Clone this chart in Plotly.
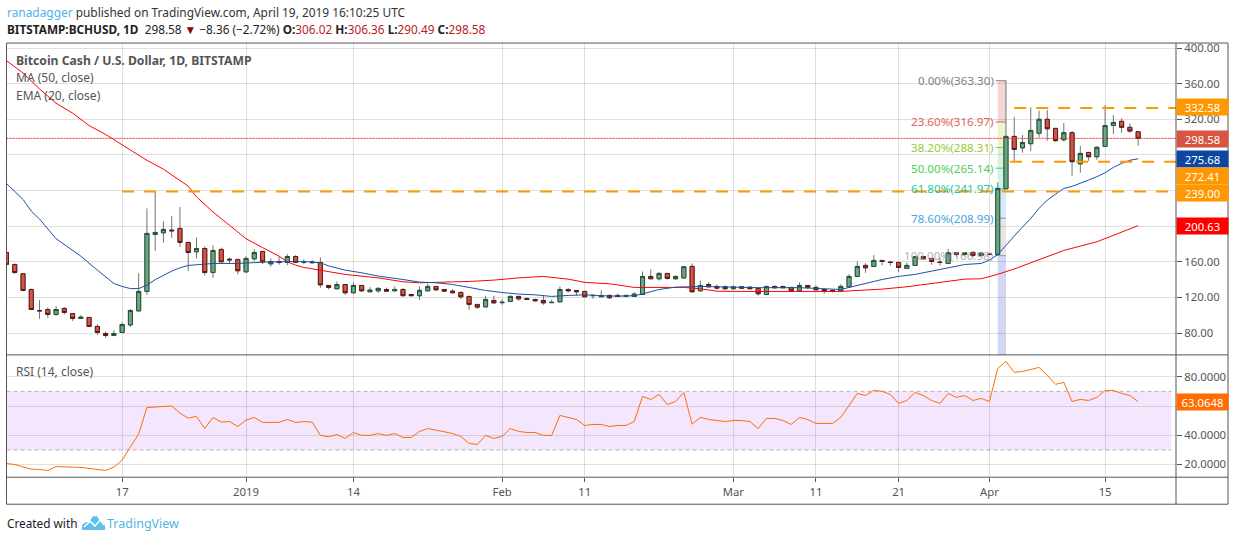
import pandas as pd
import plotly.graph_objects as go

# 日线数据 2018-12-03 .. 2019-04-19
dates = pd.date_range('2018-12-03', '2019-04-19', freq='D').strftime('%Y-%m-%d').tolist()

opens = [170.5, 157, 146.6, 129, 105.4, 106.5, 100.9, 107.7, 102, 96.4, 97.6, 87.5, 79.6, 77.3, 80.7, 89.3, 105, 126.8, 190.8, 192.6,
         195.6, 197.5, 181.8, 171.3, 175, 148, 173.9, 163, 162.7, 148.8, 163.4, 171.7, 157.8, 160.4, 159.3, 166, 159.7, 159, 159.3, 133.5,
         129.8, 134.6, 125.3, 133.5, 126.4, 127.5, 129, 127.5, 129, 123.4, 122, 127.5, 132.4, 129, 127.1, 125.6, 121.2, 112.2, 109.5, 116.7,
         114.2, 115.5, 121.2, 118.9, 117.8, 116.7, 114.2, 115.2, 129, 127.9, 126.8, 122, 120.8, 122.3, 122.3, 121.2, 121.2, 123.4, 143.6, 141,
         147, 141, 142, 154.9, 127.5, 134.6, 132.4, 132, 129.8, 132, 131.6, 130.2, 123.4, 132.4, 132.4, 131.3, 127.5, 133.5, 131.3, 129,
         127.9, 127.5, 132, 143.6, 156, 154.9, 161.6, 159.7, 159.3, 152.6, 156, 166, 163.8, 159.7, 158.2, 170.2, 168.3, 170.6, 167.2, 168.7,
         168.3, 242, 300.8, 288, 292.6, 304.2, 320, 309.8, 297, 305, 270, 282.8, 278, 289.6, 313, 317.7, 311, 306.02]
closes = [157.1, 148, 127.9, 106.5, 105, 100.9, 106.5, 103.2, 96.4, 97.9, 87.5, 80.7, 77.3, 79.6, 89.7, 105.4, 126.8, 191.9, 193, 196.4,
          194.9, 181.8, 170.5, 175, 148, 172.8, 160, 162.3, 150, 163.8, 170.5, 160, 160.4, 159.3, 166, 159.3, 160, 159.7, 134.2, 131.2,
          134.6, 125.3, 133.5, 127.5, 128.3, 130.2, 127.1, 129, 122, 122, 128, 132.4, 128.6, 127.1, 125.3, 120.8, 112.2, 109.2, 117.8, 114,
          114.6, 121.2, 118.5, 117.8, 116.3, 114, 114.5, 129, 127.5, 126.4, 120.8, 122.3, 122, 119.7, 121.2, 122.3, 123.8, 143.6, 141, 147,
          141.4, 143.6, 154.5, 126.4, 133.5, 132, 130.5, 129.8, 132, 130.5, 129.8, 124.2, 132.4, 130.9, 130.9, 127.5, 133.5, 131.3, 128.6, 127.1,
          126.8, 132.4, 143.6, 154.9, 153.3, 161.6, 160.4, 159.3, 153.7, 156, 165.7, 163.4, 160.4, 159.3, 170.2, 168.3, 170.2, 167.2, 169.8, 168.3,
          242.4, 300.8, 286.2, 294, 307.5, 320, 309.4, 296, 305, 272.4, 281.7, 278, 288.5, 313, 316.5, 311, 306.8, 298.58]
highs = [170.5, 158.2, 146.6, 130, 117, 109, 110.3, 109.2, 102.5, 100.2, 98, 90, 81.8, 83.3, 92, 106.9, 147.3, 220, 239, 205.7,
         211.3, 221.5, 182, 187.4, 177.3, 178.8, 176, 164.6, 163, 166.4, 174, 172, 163.8, 165.7, 168.7, 167.5, 162.7, 162, 165, 133.6,
         138, 134.8, 137, 134, 131.6, 131.6, 131, 132.4, 130.5, 123.5, 132.4, 135.8, 132.6, 129.2, 129.4, 127.1, 121.4, 112.4, 122, 122,
         118, 122.6, 121.5, 120, 118.5, 122, 117.8, 132.4, 130.5, 128, 127, 123.8, 128, 123.4, 124.5, 122.5, 126, 149.2, 151.5, 148.5,
         147.2, 144.8, 155, 158.2, 139, 137, 134.6, 133.5, 133.5, 132.2, 132, 130.5, 133, 133.5, 133, 131.5, 137, 133.7, 133.5, 129.2,
         129, 135, 146.2, 160.4, 158.6, 167.6, 162, 160.5, 159.5, 159.3, 166.5, 166.3, 164, 165, 174.3, 170.5, 171, 171.7, 170.5, 169.5,
         249, 363.3, 322.5, 302.3, 333.4, 329.6, 330.4, 310, 315.8, 306.8, 290, 283, 290, 336, 324.8, 321, 315.4, 306.36]
lows = [157.1, 146.6, 127.9, 106.5, 96, 97.2, 99.4, 100.9, 93.8, 96, 87.5, 78, 74.7, 77, 80.5, 87, 104, 123, 172.4, 181.4,
        187, 176.9, 150, 163.8, 145, 142, 160, 157.4, 146, 148, 160.8, 157.4, 154.5, 156.7, 156.3, 159, 157.4, 158, 130.9, 129,
        129, 123, 124.2, 126.4, 126.4, 125.3, 126.4, 127, 121.5, 121.7, 117, 127, 127.5, 126.4, 125, 118.5, 106.2, 107.3, 109, 113,
        111.8, 114.8, 116.3, 117, 115.5, 111.8, 113.7, 114, 125.6, 122, 120.8, 118.5, 120.6, 118.5, 121, 121, 121, 123, 141, 139,
        140, 139.9, 141, 126, 127, 131, 129, 128.6, 129, 129.8, 129.6, 122, 123, 129.8, 130.6, 126.4, 127, 129.4, 128.3, 124.2,
        125.6, 127, 131.6, 143, 147.7, 154.5, 156, 155.6, 148.5, 152, 155.8, 163, 156.7, 156, 158, 165.7, 167, 165, 166, 167.5,
        167, 242, 273, 282.5, 284.3, 299.7, 296, 295, 295, 256.6, 260, 273.5, 274.6, 289, 303.4, 305, 305, 290.49]

ema_dates = ['2018-12-03', '2018-12-05', '2018-12-06', '2018-12-07', '2018-12-09', '2018-12-12', '2018-12-14', '2018-12-16', '2018-12-17',
             '2018-12-18', '2018-12-19', '2018-12-20', '2018-12-21', '2018-12-22', '2018-12-23', '2018-12-24', '2018-12-25', '2018-12-26',
             '2018-12-28', '2018-12-31', '2019-01-02', '2019-01-04', '2019-01-08', '2019-01-10', '2019-01-11', '2019-01-12', '2019-01-13',
             '2019-01-15', '2019-01-17', '2019-01-20', '2019-01-22', '2019-01-24', '2019-01-26', '2019-01-28', '2019-01-30', '2019-02-01',
             '2019-02-03', '2019-02-05', '2019-02-07', '2019-02-09', '2019-02-11', '2019-02-13', '2019-02-15', '2019-02-17', '2019-02-18',
             '2019-02-20', '2019-02-22', '2019-02-25', '2019-02-28', '2019-03-04', '2019-03-09', '2019-03-12', '2019-03-14', '2019-03-15',
             '2019-03-17', '2019-03-19', '2019-03-21', '2019-03-23', '2019-03-25', '2019-03-27', '2019-03-29', '2019-03-31', '2019-04-01',
             '2019-04-02', '2019-04-03', '2019-04-04', '2019-04-05', '2019-04-06', '2019-04-07', '2019-04-08', '2019-04-09', '2019-04-10',
             '2019-04-11', '2019-04-12', '2019-04-13', '2019-04-14', '2019-04-15', '2019-04-16', '2019-04-17', '2019-04-18', '2019-04-19']
ema_values = [248, 230, 217, 208, 186, 166.4, 150.7, 135.7, 132.4,
              130, 130, 133.9, 140, 144.7, 149.6, 153.3, 156, 156.7,
              158.2, 158.2, 159.3, 160, 160.4, 159, 155.4, 153.3, 150.7,
              147.7, 144, 140.2, 137.3, 136.5, 134.6, 131.3, 127.9, 125.6,
              123.8, 123, 121.2, 122.3, 123, 122, 121.5, 122, 124,
              129, 131.6, 132.4, 131.6, 131, 131, 130.2, 129, 131.3,
              135.8, 140.2, 143.6, 145.9, 149.6, 153.3, 157, 158.2, 162,
              168, 178.8, 189, 199, 208.7, 220, 229.3, 236, 242.4,
              244.7, 248, 251.8, 255.5, 260, 266, 270.5, 274, 275.68]

ma_dates = ['2018-12-03', '2018-12-05', '2018-12-07', '2018-12-09', '2018-12-11', '2018-12-13', '2018-12-15', '2018-12-17', '2018-12-18',
            '2018-12-20', '2018-12-22', '2018-12-25', '2018-12-26', '2018-12-28', '2018-12-30', '2019-01-01', '2019-01-03', '2019-01-05',
            '2019-01-06', '2019-01-07', '2019-01-08', '2019-01-10', '2019-01-13', '2019-01-17', '2019-01-20', '2019-01-22', '2019-01-24',
            '2019-01-26', '2019-01-28', '2019-01-31', '2019-02-03', '2019-02-06', '2019-02-09', '2019-02-11', '2019-02-14', '2019-02-17',
            '2019-02-21', '2019-02-23', '2019-02-25', '2019-02-27', '2019-03-01', '2019-03-14', '2019-03-16', '2019-03-19', '2019-03-22',
            '2019-03-25', '2019-03-29', '2019-03-31', '2019-04-02', '2019-04-04', '2019-04-07', '2019-04-10', '2019-04-14', '2019-04-19']
ma_values = [385.8, 372, 354, 338, 327, 313, 303, 291, 285,
             274, 264, 245, 233, 216, 201, 186, 176, 166.4,
             160, 156.3, 153.7, 150.5, 145.9, 142, 137.6, 136.5, 136.9,
             137.6, 138, 139.5, 142, 143.6, 140.6, 136.9, 135.4, 131.3,
             131.3, 131.3, 129.8, 127.1, 126.8, 126.8, 127.9, 129.4, 132,
             135.8, 140.6, 141, 146, 152, 162, 172.8, 182.5, 200.63]

rsi_values = [20.7, 20, 18.4, 16.8, 16.6, 15.9, 18.6, 18.6, 18.2, 18, 17.3, 16.6, 15.9, 18.2, 23, 32, 40.8, 59, 59.3, 60,
              60, 55.1, 51.7, 52.9, 44.6, 52.2, 49, 49.4, 46, 50.4, 52.2, 48.8, 48.8, 48.8, 50.8, 48.8, 49.4, 49, 39.9, 39,
              40.5, 37.8, 41.9, 39.9, 39.9, 41.2, 39.9, 41.2, 38.5, 38.5, 42.6, 44.6, 43.5, 42.6, 41.2, 39.2, 34.4, 33.7, 39.9, 37.8,
              39.2, 44.6, 42.6, 41.9, 41.9, 39.9, 39.9, 53.6, 52.2, 50.8, 46.7, 47.4, 47.4, 46, 46.7, 46.7, 49.4, 66.6, 64.5, 67.9,
              61, 63.1, 69.3, 47.6, 52.2, 50.8, 50.1, 49.4, 50.1, 50.1, 49.4, 44.6, 51.5, 51.5, 50.1, 47.4, 52.2, 50.8, 48.1, 48.1,
              48.1, 52.2, 60.4, 68.6, 67.2, 70.7, 70, 67.9, 61.8, 63.8, 69.3, 67.2, 63.8, 61.8, 68.6, 65.9, 67.2, 63.8, 65.2, 63.1,
              85.7, 90.5, 83, 83.7, 85, 86.4, 81, 74.8, 76.2, 63.1, 64.5, 63.8, 65.9, 70.7, 70.7, 68.6, 67.2, 63.06]

tick_dates = ['2018-12-17', '2019-01-01', '2019-01-14', '2019-02-01', '2019-02-11', '2019-03-01', '2019-03-11', '2019-03-21', '2019-04-01', '2019-04-15']
tick_labels = ['17', '2019', '14', 'Feb', '11', 'Mar', '11', '21', 'Apr', '15']

# 被价格标签盖住的刻度不写文字
price_ticks = [80, 120, 160, 200, 240, 280, 320, 360, 400]
price_tick_labels = ['80.00', '120.00', '160.00', '', '', '', '320.00', '360.00', '400.00']
rsi_ticks = [20, 40, 60, 80]
rsi_tick_labels = ['20.0000', '40.0000', '', '80.0000']

# 斐波那契回撤
fib_names = ['0.00%', '23.60%', '38.20%', '50.00%', '61.80%', '78.60%', '100.00%']
fib_prices = [363.30, 316.97, 288.31, 265.14, 241.97, 208.99, 166.98]
fib_colors = ['#808080', '#e0605a', '#9acb34', '#4ccf55', '#22c79a', '#4aa5e0', '#999999']
fib_fills = ['#f4d6d6', '#ecf4cf', '#d6f3d6', '#d0f3e8', '#d6eaf8', '#e6e6e6']

W, H = 1234, 541
LEFT, AXIS_X, RIGHT = 6.5, 1176, 1228
TOP, SPLIT, BOTTOM, FRAME_BOTTOM = 43, 354.7, 477, 504
FONT = 'Noto Sans'
GREY = '#555555'


def px(x):
    return x / W


def py(y):
    # 截图顶部比底部偏低约 3px, 这里校正
    return 1 - (y - 3 * max(0, 1 - y / 500)) / H


fig = go.Figure()

# 影线和实体分开画: 影线灰色, 实体深色边框
fig.add_trace(go.Candlestick(x=dates, open=opens, high=highs, low=lows, close=closes, whiskerwidth=0,
                             increasing=dict(line=dict(color='#737375', width=1), fillcolor='#737375'),
                             decreasing=dict(line=dict(color='#737375', width=1), fillcolor='#737375'),
                             xaxis='x', yaxis='y', showlegend=False, hoverinfo='skip'))
body_high = [max(o, c) for o, c in zip(opens, closes)]
body_low = [min(o, c) for o, c in zip(opens, closes)]
fig.add_trace(go.Candlestick(x=dates, open=opens, high=body_high, low=body_low, close=closes, whiskerwidth=0,
                             increasing=dict(line=dict(color='#225437', width=1), fillcolor='#6ba583'),
                             decreasing=dict(line=dict(color='#5b1a13', width=1), fillcolor='#d75442'),
                             xaxis='x', yaxis='y', showlegend=False, hoverinfo='skip'))
fig.add_trace(go.Scatter(x=ma_dates, y=ma_values, mode='lines', line=dict(color='#ff0000', width=1), xaxis='x', yaxis='y',
                         showlegend=False, hoverinfo='skip'))
fig.add_trace(go.Scatter(x=ema_dates, y=ema_values, mode='lines', line=dict(color='#1a52a8', width=1), xaxis='x', yaxis='y',
                         showlegend=False, hoverinfo='skip'))
fig.add_trace(go.Scatter(x=dates, y=rsi_values, mode='lines', line=dict(color='#ff6d00', width=1), xaxis='x2', yaxis='y2',
                         showlegend=False, hoverinfo='skip'))

shapes = []

# RSI 区间
shapes.append(dict(type='rect', xref='x domain', yref='y2', x0=0, x1=0.996, y0=30, y1=70, fillcolor='#f4e6fd', line_width=0, layer='below'))
for level in [30, 70]:
    shapes.append(dict(type='line', xref='x domain', yref='y2', x0=0, x1=0.996, y0=level, y1=level,
                       line=dict(color='#b9aebd', width=1, dash='4px,3px'), layer='below'))

# 斐波那契色块
for i in range(len(fib_fills)):
    shapes.append(dict(type='rect', xref='x', yref='y', x0='2019-04-02', x1='2019-04-03', y0=fib_prices[i], y1=fib_prices[i + 1],
                       fillcolor=fib_fills[i], line_width=0, layer='below'))
for p, c in zip(fib_prices, fib_colors):
    shapes.append(dict(type='line', xref='x', yref='y', x0='2019-04-01 18:00', x1='2019-04-03', y0=p, y1=p,
                       line=dict(color=c, width=1), layer='below'))
shapes.append(dict(type='rect', xref='x', yref='y domain', x0='2019-04-02', x1='2019-04-03', y0=0, y1=(166.98 - 55.6) / (405.6 - 55.6),
                   fillcolor='#d2d6f5', line_width=0, layer='below'))

# 水平位
level_lines = [(332.58, '2019-04-04'), (272.41, '2019-04-03 12:00'), (239.00, '2018-12-17')]
for price, start in level_lines:
    shapes.append(dict(type='line', xref='x', yref='y', x0=start, x1='2019-04-23 14:00', y0=price, y1=price,
                       line=dict(color='#ff9800', width=2, dash='12px,10px')))
shapes.append(dict(type='line', xref='x domain', yref='y', x0=0, x1=1, y0=298.58, y1=298.58,
                   line=dict(color='#e53935', width=1, dash='2px,1px')))

# 边框
for x0, y0, x1, y1 in [(LEFT, TOP, RIGHT, TOP), (LEFT, SPLIT, RIGHT, SPLIT), (LEFT, BOTTOM, RIGHT, BOTTOM), (LEFT, FRAME_BOTTOM, RIGHT, FRAME_BOTTOM),
                       (LEFT, TOP, LEFT, FRAME_BOTTOM), (AXIS_X, TOP, AXIS_X, FRAME_BOTTOM), (RIGHT, TOP, RIGHT, FRAME_BOTTOM)]:
    shapes.append(dict(type='line', xref='paper', yref='paper', x0=px(x0), x1=px(x1), y0=py(y0), y1=py(y1), line=dict(color=GREY, width=1)))

# TradingView 小图标
cloud = [(82, 530), (82, 525), (86, 522), (89, 522), (93, 516), (97, 516), (100, 521), (103, 522), (105, 526), (105, 530)]
path = 'M ' + ' L '.join(f'{px(a):.5f},{py(b):.5f}' for a, b in cloud) + ' Z'
shapes.append(dict(type='path', xref='paper', yref='paper', path=path, fillcolor='#5bc0eb', line_width=0))
zigzag = [(84, 527), (90, 521), (95, 526), (100, 520), (104, 525)]
path = 'M ' + ' L '.join(f'{px(a):.5f},{py(b):.5f}' for a, b in zigzag)
shapes.append(dict(type='path', xref='paper', yref='paper', path=path, line=dict(color='white', width=1.5)))

annotations = []


def text_at(x, y, text, color='#333333', size=12):
    annotations.append(dict(xref='paper', yref='paper', x=px(x), y=py(y), text=text, showarrow=False, xanchor='left', yanchor='middle',
                            font=dict(family=FONT, size=size, color=color)))


text_at(5, 12, '<span style="color:#4fb4e6">ranadagger</span> published on TradingView.com, April 19, 2019 16:10:25 UTC', '#333333', 11.9)
dark_red = '#b71c1c'
text_at(5, 29, '<b>BITSTAMP:BCHUSD, 1D</b>  298.58 <span style="color:#8b0000">▼</span> −8.36 (−2.72%) '
               f'<b>O:</b><span style="color:{dark_red}">306.02</span> <b>H:</b><span style="color:{dark_red}">306.36</span> '
               f'<b>L:</b><span style="color:{dark_red}">290.49</span> <b>C:</b><span style="color:{dark_red}">298.58</span>', '#222222', 11.8)
text_at(14, 60, '<b>Bitcoin Cash / U.S. Dollar, 1D, BITSTAMP</b>', '#555555', 12.2)
text_at(14, 77, 'MA (50, close)', '#555555')
text_at(14, 95, 'EMA (20, close)', '#555555')
text_at(14, 371, 'RSI (14, close)', '#555555')
text_at(5, 523, 'Created with', '#222222', 11.8)
text_at(105, 523, 'TradingView', '#4fb4e6', 12.5)

# 斐波那契标签
for name, p, c in zip(fib_names, fib_prices, fib_colors):
    annotations.append(dict(xref='x', yref='y', x='2019-04-01 18:00', y=p, text=f'{name}({p:.2f})', showarrow=False, xanchor='right', yanchor='middle',
                            font=dict(family=FONT, size=11.6, color=c), opacity=0.75 if name == '100.00%' else 1))

# 右侧价格标签
price_labels = [('332.58', 107, '#ff9800'), ('298.58', 138.5, '#d75442'), ('275.68', 158.5, '#0d47a1'), ('272.41', 175.5, '#ff9800'),
                ('239.00', 192.5, '#ff9800'), ('200.63', 225.5, '#ff0000'), ('63.0648', 401.5, '#ff6d00')]
for label, y, c in price_labels:
    annotations.append(dict(xref='paper', yref='paper', x=px(AXIS_X), y=py(y), text=label, showarrow=False, xanchor='left', yanchor='middle',
                            width=51, height=16, align='center', valign='middle', bgcolor=c, borderpad=0,
                            font=dict(family=FONT, size=11.3, color='white')))

axis_font = dict(family=FONT, size=11.3, color='#555555')
grid = 'rgba(0,0,0,0.12)'
x_range = ['2018-12-03', '2019-04-23 14:00']
x_domain = [px(LEFT), px(AXIS_X)]

fig.update_layout(
    width=W, height=H, margin=dict(l=0, r=0, t=0, b=0), autosize=False,
    paper_bgcolor='white', plot_bgcolor='white', showlegend=False,
    font=dict(family=FONT), boxgap=0.3,
    xaxis=dict(domain=x_domain, anchor='y', range=x_range, type='date', tickmode='array', tickvals=tick_dates, ticktext=tick_labels,
               showticklabels=False, ticks='', gridcolor=grid, gridwidth=1, showgrid=True, zeroline=False, rangeslider=dict(visible=False)),
    yaxis=dict(domain=[py(SPLIT), py(TOP)], anchor='x', side='right', range=[55.6, 405.6], tickmode='array',
               tickvals=price_ticks, ticktext=price_tick_labels, ticks='outside', ticklen=5, tickcolor=GREY,
               tickfont=axis_font, gridcolor=grid, gridwidth=1, zeroline=False, showline=False),
    xaxis2=dict(domain=x_domain, anchor='y2', range=x_range, type='date', tickmode='array', tickvals=tick_dates, ticktext=tick_labels,
                ticks='outside', ticklen=4, tickcolor=GREY, tickfont=axis_font, gridcolor=grid, gridwidth=1, zeroline=False, matches='x'),
    yaxis2=dict(domain=[py(BOTTOM), py(SPLIT)], anchor='x2', side='right', range=[11.3, 95], tickmode='array',
                tickvals=rsi_ticks, ticktext=rsi_tick_labels, ticks='outside', ticklen=5, tickcolor=GREY,
                tickfont=axis_font, gridcolor=grid, gridwidth=1, zeroline=False, showline=False),
    shapes=shapes, annotations=annotations,
)

fig.write_html("out.html", config=dict(displayModeBar=False),
               post_script="document.body.style.margin='0';document.documentElement.style.overflow='hidden';")
